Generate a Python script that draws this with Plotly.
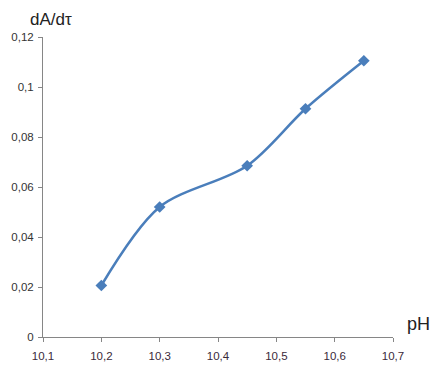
import plotly.graph_objects as go

ph = [10.2, 10.3, 10.45, 10.55, 10.65]
rate = [0.0206, 0.052, 0.0685, 0.0913, 0.1105]

x_ticks = [10.1, 10.2, 10.3, 10.4, 10.5, 10.6, 10.7]
x_labels = ["10,1", "10,2", "10,3", "10,4", "10,5", "10,6", "10,7"]
y_ticks = [0, 0.02, 0.04, 0.06, 0.08, 0.1, 0.12]
y_labels = ["0", "0,02", "0,04", "0,06", "0,08", "0,1", "0,12"]

color = "#4A7EBB"
font = "Liberation Sans"

fig = go.Figure()
fig.add_trace(go.Scatter(
    x=ph, y=rate, mode="lines+markers",
    line=dict(color=color, width=2.5, shape="spline", smoothing=0.9),
    marker=dict(symbol="diamond", size=9, color=color),
    showlegend=False,
))

# page body has an 8px margin: the figure is sized so it fits the window without scrolling
# plot area: 350 x 300 px
fig.update_layout(
    width=422, height=356,
    margin=dict(l=35, r=37, t=29, b=27, autoexpand=False),
    paper_bgcolor="white", plot_bgcolor="white",
    font=dict(family=font, size=11.5, color="#333333"),
    xaxis=dict(
        range=[10.1, 10.7], tickvals=x_ticks, ticktext=x_labels, automargin=False,
        showgrid=False, zeroline=False, showline=True, linecolor="#868686", linewidth=1,
        ticks="outside", ticklen=4, tickcolor="#868686", ticklabelstandoff=4,
        tickfont=dict(family=font, size=11.5, color="#3a2a3a"),
    ),
    yaxis=dict(
        range=[0, 0.12], tickvals=y_ticks, ticktext=y_labels, automargin=False,
        showgrid=False, zeroline=False, showline=True, linecolor="#868686", linewidth=1,
        ticks="outside", ticklen=4, tickcolor="#868686", ticklabelstandoff=2,
        tickfont=dict(family=font, size=11.5, color="#333333"),
    ),
    annotations=[
        dict(text="dA/dτ", xref="paper", yref="paper", x=(51 - 43) / 350, y=1.0967,
             xanchor="center", yanchor="top", showarrow=False,
             font=dict(family=font, size=17, color="#222222")),
        dict(text="pH", xref="paper", yref="paper", x=(418 - 43) / 350, y=(337 - 324) / 300,
             xanchor="center", yanchor="middle", showarrow=False,
             font=dict(family=font, size=18, color="#222222")),
    ],
)

fig.write_html("out.html")
